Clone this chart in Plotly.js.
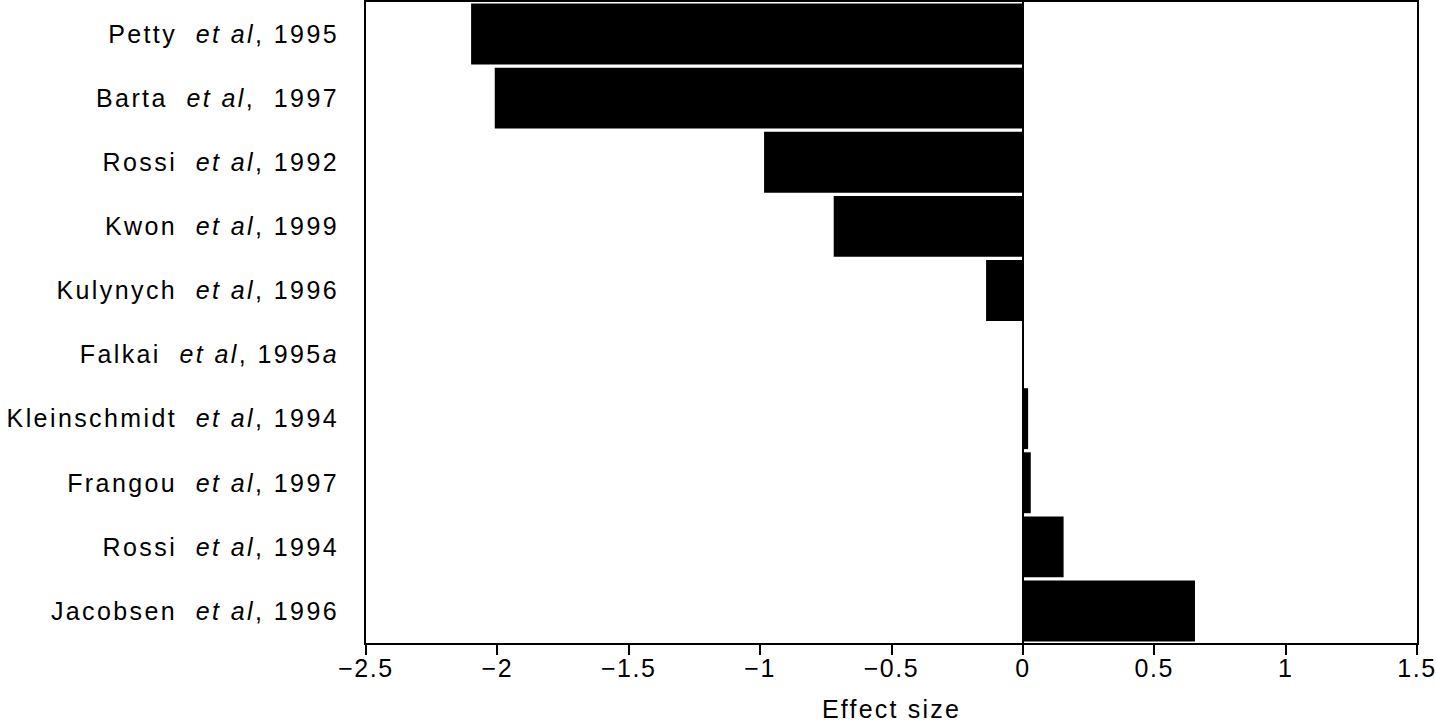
<!DOCTYPE html>
<html>
<head>
<meta charset="utf-8">
<script src="https://cdn.plot.ly/plotly-3.0.1.min.js"></script>
<style>
html,body{margin:0;padding:0;background:#fff;}
#chart{width:1436px;height:724px;}
#chart .ytick text{letter-spacing:2.4px;}
#chart .xtick text{letter-spacing:1.6px;}
#chart .g-xtitle text{letter-spacing:2.2px;}
</style>
</head>
<body>
<div id="chart"></div>
<script>
const studies = [
  "Petty\u00a0 <i>et al</i>, 1995",
  "Barta\u00a0 <i>et al</i>,\u00a0 1997",
  "Rossi\u00a0 <i>et al</i>, 1992",
  "Kwon\u00a0 <i>et al</i>, 1999",
  "Kulynych\u00a0 <i>et al</i>, 1996",
  "Falkai\u00a0 <i>et al</i>, 1995<i>a</i>",
  "Kleinschmidt\u00a0 <i>et al</i>, 1994",
  "Frangou\u00a0 <i>et al</i>, 1997",
  "Rossi\u00a0 <i>et al</i>, 1994",
  "Jacobsen\u00a0 <i>et al</i>, 1996"
];
const effectSizes = [-2.1, -2.01, -0.985, -0.72, -0.14, 0.003, 0.02, 0.03, 0.155, 0.655];
const xTickVals = [-2.5, -2, -1.5, -1, -0.5, 0, 0.5, 1, 1.5];
const xTickText = ["\u22122.5", "\u22122", "\u22121.5", "\u22121", "\u22120.5", "0", "0.5", "1", "1.5"];

const trace = {
  type: 'bar',
  orientation: 'h',
  x: effectSizes,
  y: studies,
  width: 0.95,
  marker: {color: '#000', line: {width: 0}},
  hoverinfo: 'x+y'
};

const layout = {
  width: 1436, height: 724,
  margin: {l: 366, r: 19, t: 2, b: 81},
  paper_bgcolor: '#fff', plot_bgcolor: '#fff',
  font: {family: 'Liberation Sans, Arial, sans-serif', size: 25, color: '#000'},
  showlegend: false,
  bargap: 0.05,
  xaxis: {
    range: [-2.5, 1.5],
    tickmode: 'array', tickvals: xTickVals, ticktext: xTickText,
    ticks: 'outside', ticklen: 10, tickwidth: 2, tickcolor: '#000',
    showline: true, linewidth: 2, linecolor: '#000', mirror: true,
    showgrid: false,
    zeroline: true, zerolinecolor: '#000', zerolinewidth: 1.5,
    ticklabelstandoff: -8,
    tickfont: {size: 25},
    title: {text: 'Effect size', font: {size: 25}, standoff: 19}
  },
  yaxis: {
    type: 'category',
    categoryorder: 'array', categoryarray: studies,
    autorange: 'reversed',
    showline: true, linewidth: 2, linecolor: '#000', mirror: true,
    showgrid: false, zeroline: false,
    ticks: '', ticklabelstandoff: 20,
    tickfont: {size: 25}
  }
};

Plotly.newPlot('chart', [trace], layout, {displayModeBar: false, staticPlot: true});
</script>
</body>
</html>
